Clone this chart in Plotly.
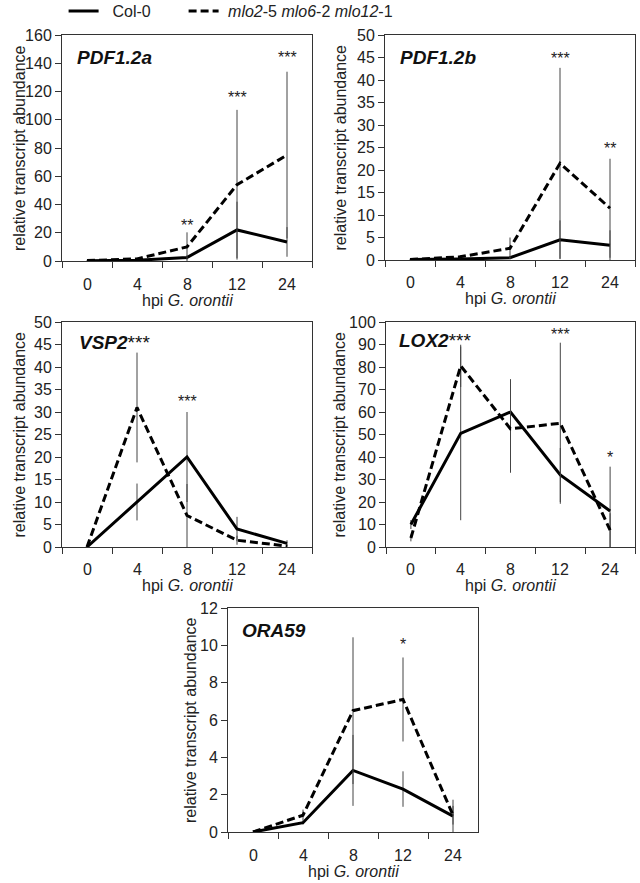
import plotly.graph_objects as go

OFF = 0
W, H = 640, 883

cats = ["0", "4", "8", "12", "24"]

# PDF1.2a
col_a = [0.2, 0.5, 2.5, 22, 13.5]
mlo_a = [0.3, 1.5, 10, 54, 75]
col_a_err = [0.1, 0.3, 1.5, 20, 10.5]
mlo_a_err = [0.2, 0.8, 10.3, 53, 59]
stars_a = [("8", 27, "**"), ("12", 118, "***"), ("24", 146, "***")]

# PDF1.2b
col_b = [0.1, 0.2, 0.5, 4.5, 3.3]
mlo_b = [0.1, 0.7, 2.6, 21.5, 11.5]
col_b_err = [0.05, 0.1, 0.3, 4.3, 3.3]
mlo_b_err = [0.05, 0.3, 2.4, 21.2, 11]
stars_b = [("12", 45.5, "***"), ("24", 25.5, "**")]

# VSP2
col_c = [0, 10, 20, 4, 0.8]
mlo_c = [0, 31, 7, 1.5, 0.2]
col_c_err = [0, 4.1, 10, 2.7, 0.7]
mlo_c_err = [0, 12.2, 7, 1, 0.3]
stars_c = [("8", 33, "***")]

# LOX2
col_d = [10, 50.5, 60, 32, 16]
mlo_d = [4, 80.5, 52.5, 55, 7.5]
col_d_err = [2, 38.6, 14.6, 12, 19.7]
mlo_d_err = [1.5, 9.4, 19.5, 35.8, 7.5]
stars_d = [("12", 95.8, "***"), ("24", 41, "*")]

# ORA59
col_e = [0, 0.5, 3.3, 2.3, 0.85]
mlo_e = [0, 0.9, 6.5, 7.1, 0.9]
col_e_err = [0, 0.1, 1.9, 0.95, 0.88]
mlo_e_err = [0, 0.3, 3.93, 2.25, 0.5]
stars_e = [("12", 10.2, "*")]

genes = ["PDF1.2a", "PDF1.2b", "VSP2", "LOX2", "ORA59"]
gene_suffix = ["", "", "***", "***", ""]
y_ranges = [(0, 160), (0, 50), (0, 50), (0, 100), (0, 12)]
y_dticks = [20, 5, 5, 10, 2]


def fx(xp):
    return (xp - OFF) / W


def fy(yp):
    return 1 - (yp - OFF) / H


# panel pixel boxes in page coords (left, right, top, bottom)
boxes = [(62, 312, 35, 261), (385, 635, 35, 260), (62, 312, 322, 547),
         (386, 635, 322, 547), (228, 478, 608, 832)]
label_pos = [(75, 58), (398, 58), (77, 343), (397, 340), (240, 630)]
ytitle_x = [19, 340, 19, 339, 190]
xtitle_dy = [39, 39, 38, 38, 39]
xtick_dy = [23, 23, 22, 22, 23]

series = [
    (col_a, mlo_a, col_a_err, mlo_a_err, stars_a),
    (col_b, mlo_b, col_b_err, mlo_b_err, stars_b),
    (col_c, mlo_c, col_c_err, mlo_c_err, stars_c),
    (col_d, mlo_d, col_d_err, mlo_d_err, stars_d),
    (col_e, mlo_e, col_e_err, mlo_e_err, stars_e),
]

FONT = "Liberation Sans, Arial, sans-serif"
TXT = "#222222"

fig = go.Figure()
leg_common = dict(orientation="h", xanchor="left", yanchor="middle",
                  font=dict(size=16, color=TXT), bgcolor="rgba(0,0,0,0)",
                  borderwidth=0, itemwidth=30)
layout = dict(
    width=W, height=H, margin=dict(l=0, r=0, t=0, b=0, autoexpand=False),
    paper_bgcolor="white", plot_bgcolor="white",
    font=dict(family=FONT, size=16, color=TXT),
    showlegend=True,
    legend=dict(x=fx(68 - 4.4), y=fy(11), **leg_common),
    legend2=dict(x=fx(188 - 4.4), y=fy(11), **leg_common),
)
annotations = []

for i in range(5):
    n = "" if i == 0 else str(i + 1)
    xa, ya = "x" + n, "y" + n
    col, mlo, cerr, merr, stars = series[i]
    l, r, t, b = boxes[i]
    fig.add_trace(go.Scatter(
        x=cats, y=col, xaxis=xa, yaxis=ya, mode="lines", name="&nbsp;&nbsp;Col-0",
        line=dict(color="black", width=3),
        error_y=dict(type="data", array=cerr, visible=True, color="#444444",
                     thickness=1, width=0),
        showlegend=(i == 0), legend="legend"))
    fig.add_trace(go.Scatter(
        x=cats, y=mlo, xaxis=xa, yaxis=ya, mode="lines",
        name="&nbsp;<i>mlo2</i>-5 <i>mlo6</i>-2 <i>mlo12</i>-1",
        line=dict(color="black", width=3, dash="8px,4px"),
        error_y=dict(type="data", array=merr, visible=True, color="#444444",
                     thickness=1, width=0),
        showlegend=(i == 0), legend="legend2"))

    layout["xaxis" + n] = dict(
        domain=[fx(l), fx(r)], anchor=ya, type="category",
        categoryorder="array", categoryarray=cats, range=[-0.5, 4.5],
        tickson="boundaries", ticks="outside", ticklen=6, tickcolor="#333",
        showticklabels=False,
        showline=True, linecolor="#333", linewidth=1, mirror=True,
        showgrid=False, zeroline=False,
    )
    layout["yaxis" + n] = dict(
        domain=[fy(b), fy(t)], anchor=xa, range=list(y_ranges[i]),
        dtick=y_dticks[i], ticks="outside", ticklen=6, tickcolor="#333",
        showline=True, linecolor="#333", linewidth=1, mirror=True,
        showgrid=False, zeroline=False,
        tickfont=dict(size=16, color=TXT),
    )
    # x tick labels placed at the category positions
    for k, c in enumerate(cats):
        annotations.append(dict(
            xref=xa, yref=ya + " domain", x=k, y=0, yshift=-xtick_dy[i],
            xanchor="center", yanchor="middle", showarrow=False,
            text=c, font=dict(size=16, color=TXT)))
    # axis titles
    annotations.append(dict(
        xref="paper", yref="paper", x=fx(ytitle_x[i]), y=fy((t + b) / 2),
        xanchor="center", yanchor="middle", textangle=-90, showarrow=False,
        text="relative transcript abundance", font=dict(size=16, color=TXT)))
    annotations.append(dict(
        xref="paper", yref="paper", x=fx((l + r) / 2), y=fy(b + xtitle_dy[i]),
        xanchor="center", yanchor="middle", showarrow=False,
        text="hpi <i>G. orontii</i>", font=dict(size=16, color=TXT)))
    lx, ly = label_pos[i]
    annotations.append(dict(
        xref="paper", yref="paper", x=fx(lx), y=fy(ly), xanchor="left", yanchor="middle",
        text="<b><i>%s</i></b>%s" % (genes[i], gene_suffix[i]), showarrow=False,
        font=dict(size=19, color="#111")))
    for (c, yv, s) in stars:
        annotations.append(dict(
            xref=xa, yref=ya, x=cats.index(c), y=yv, text=s, showarrow=False,
            xanchor="center", yanchor="middle", yshift=-3, font=dict(size=16, color=TXT)))

layout["annotations"] = annotations
fig.update_layout(**layout)
fig.write_html("out.html", config={"displayModeBar": False},
               post_script="document.body.style.margin='0';document.body.style.overflow='hidden';")
